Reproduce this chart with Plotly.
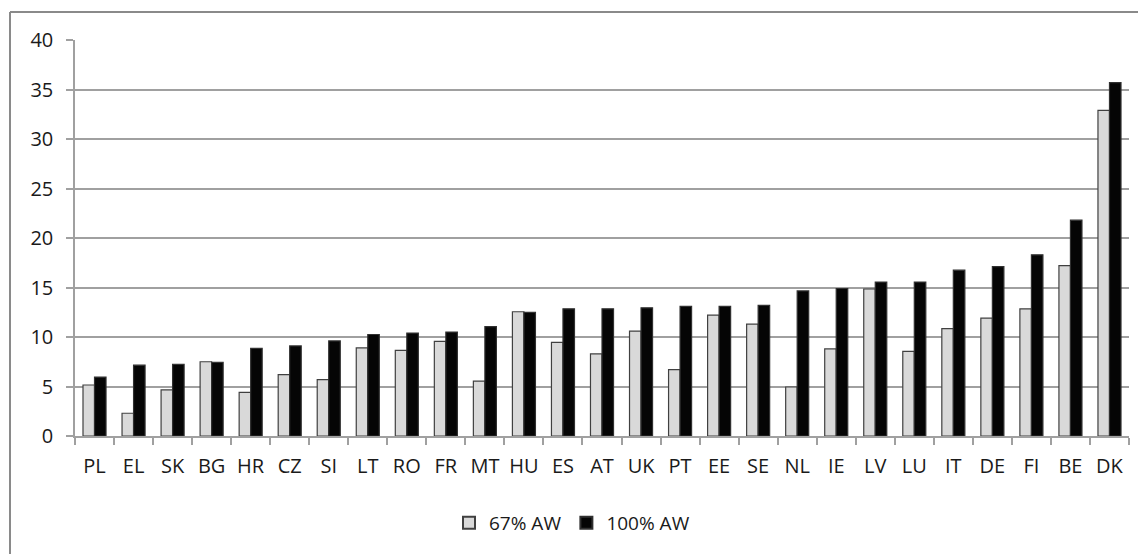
import plotly.graph_objects as go

countries = ["PL", "EL", "SK", "BG", "HR", "CZ", "SI", "LT", "RO", "FR", "MT", "HU", "ES", "AT",
             "UK", "PT", "EE", "SE", "NL", "IE", "LV", "LU", "IT", "DE", "FI", "BE", "DK"]
aw67 = [5.15, 2.3, 4.65, 7.5, 4.4, 6.2, 5.7, 8.9, 8.65, 9.55, 5.55, 12.55, 9.45, 8.3,
        10.6, 6.7, 12.2, 11.3, 4.95, 8.8, 14.85, 8.55, 10.85, 11.9, 12.85, 17.2, 32.9]
aw100 = [5.95, 7.15, 7.25, 7.45, 8.85, 9.1, 9.6, 10.25, 10.4, 10.5, 11.05, 12.5, 12.85, 12.85,
         12.95, 13.1, 13.1, 13.2, 14.65, 14.9, 15.55, 15.55, 16.75, 17.1, 18.3, 21.8, 35.7]
y_ticks = [0, 5, 10, 15, 20, 25, 30, 35, 40]

FONT = "Open Sans"
TXT = "#1a1a1a"

fig = go.Figure()
fig.add_trace(go.Bar(
    x=countries, y=aw67, name="67% AW",
    marker=dict(color="#d9d9d9", line=dict(color="#404040", width=1.2)),
))
fig.add_trace(go.Bar(
    x=countries, y=aw100, name="100% AW",
    marker=dict(color="#050505", line=dict(color="#303030", width=1.2)),
))

OFF = 8  # default body margin of the html page
L, R, T, B = 75, 1129, 40, 436
W, H = 1146 - OFF, 554 - OFF
pw, ph = R - L, B - T


def px(xp):
    return (xp - L) / pw


def py(yp):
    return (B - yp) / ph


fig.update_layout(
    width=W, height=H,
    margin=dict(l=L - OFF, r=W - (R - OFF), t=T - OFF, b=H - (B - OFF), pad=0),
    paper_bgcolor="white", plot_bgcolor="white",
    barmode="group", bargap=0.41, bargroupgap=0.0,
    font=dict(family=FONT, size=19, color=TXT),
    showlegend=True,
    legend=dict(orientation="h", x=px(572), xanchor="center", y=py(523), yanchor="middle",
                font=dict(family=FONT, size=19, color=TXT),
                itemsizing="constant", itemwidth=30, traceorder="normal"),
    xaxis=dict(
        showgrid=False, showline=True, linecolor="#a0a0a0", linewidth=1.5,
        ticks="outside", ticklen=7, tickcolor="#a0a0a0", tickwidth=1.5,
        tickson="boundaries", tickfont=dict(family=FONT, size=20, color=TXT),
        ticklabelstandoff=11, fixedrange=True,
    ),
    yaxis=dict(
        range=[0, 40], tickvals=y_ticks, showgrid=True, gridcolor="#a0a0a0", gridwidth=1.5,
        showline=True, linecolor="#a0a0a0", linewidth=1.5,
        ticks="outside", ticklen=7, tickcolor="#a0a0a0", tickwidth=1.5,
        tickfont=dict(family=FONT, size=20, color=TXT), zeroline=False,
        ticklabelstandoff=9, fixedrange=True,
    ),
    shapes=[
        dict(type="line", xref="paper", yref="paper", x0=px(10), x1=px(1146), y0=py(12), y1=py(12),
             line=dict(color="#8a8a8a", width=2)),
        dict(type="line", xref="paper", yref="paper", x0=px(10), x1=px(10), y0=py(12), y1=py(554),
             line=dict(color="#8a8a8a", width=2)),
    ],
)

fig.write_html("out.html")
